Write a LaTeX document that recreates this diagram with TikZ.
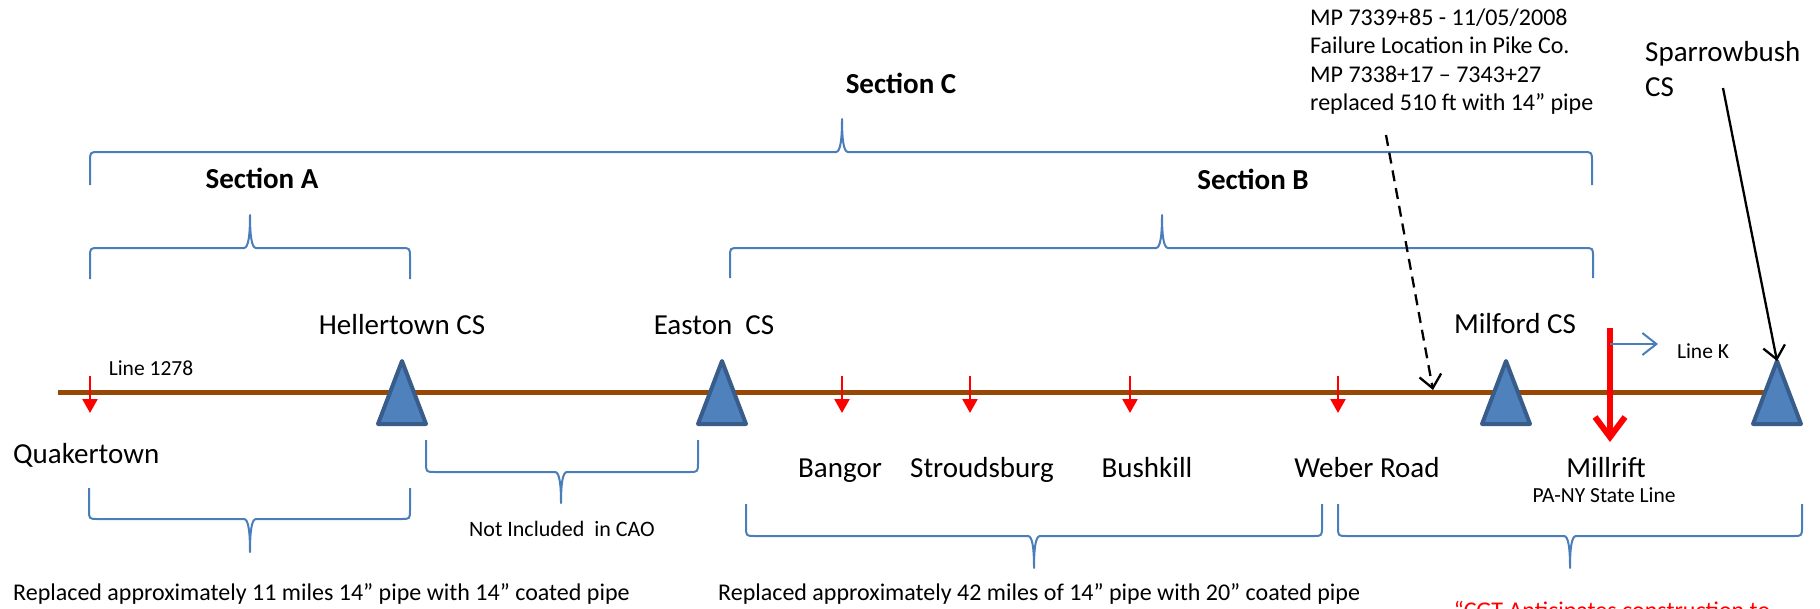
\documentclass[tikz,border=0pt]{standalone}
\usepackage{fontspec}
\setmainfont{Carlito}
\usetikzlibrary{arrows.meta}
\definecolor{pipebrown}{RGB}{152,72,6}
\definecolor{trifill}{HTML}{4F81BD}
\definecolor{tridraw}{HTML}{385D8A}
\definecolor{braceblue}{HTML}{4A7EBB}
\definecolor{pured}{RGB}{255,0,0}
\newcommand{\brc}[6]{% x1,x2,xc,yline,yend,ytip
  \draw[bracestyle] (#1,#5) -- (#1,{#4+0.3*(#5-#4)}) .. controls (#1,#4) .. (#1+9,#4)
    -- (#3-6,#4) .. controls (#3-1.5,#4) and (#3,{#4+0.4*(#6-#4)}) .. (#3,#6)
    .. controls (#3,{#4+0.4*(#6-#4)}) and (#3+1.5,#4) .. (#3+6,#4)
    -- (#2-9,#4) .. controls (#2,#4) .. (#2,{#4+0.3*(#5-#4)}) -- (#2,#5);}
\begin{document}
\begin{tikzpicture}[x=1pt,y=-1pt,
  bracestyle/.style={draw=braceblue,line width=2pt,line join=round},
  cstri/.style={fill=trifill,draw=tridraw,line width=4pt,line join=round},
  pipe/.style={draw=pipebrown,line width=5pt},
  redmark/.style={draw=pured,line width=2.5pt,-{Triangle[length=14pt,width=15pt]}},
  bigred/.style={draw=pured,line width=6pt,-{Straight Barb[length=20pt,width=30pt,line join=miter]}},
  bluearrow/.style={draw=braceblue,line width=2pt,-{Straight Barb[length=14pt,width=22pt]}},
  blackarrow/.style={draw=black,line width=2.3pt,-{Straight Barb[length=13pt,width=22pt]}},
  big/.style={font=\fontsize{29}{35}\selectfont,inner sep=0pt,anchor=base},
  bigbold/.style={font=\fontsize{29}{35}\selectfont\bfseries,inner sep=0pt,anchor=base},
  small/.style={font=\fontsize{21.5}{26}\selectfont,inner sep=0pt,anchor=base},
  note/.style={font=\fontsize{24}{29}\selectfont,inner sep=0pt,anchor=base west},
]
\useasboundingbox (0,0) rectangle (1820,608);
\clip (0,0) rectangle (1820,608);

% braces
\brc{90}{1592}{842}{152}{185}{119}
\brc{90}{410}{250}{248}{279}{215}
\brc{730}{1593}{1162}{248}{278}{215}
\brc{89}{410}{250}{519}{488}{552}
\brc{426}{698}{561}{472}{440}{503}
\brc{746}{1322}{1034}{536}{504}{568}
\brc{1338}{1802}{1570}{536}{504}{568}

% section labels
\node[bigbold] (secC) at (901,93) {Section C};
\node[bigbold] (secA) at (262,188) {Section A};
\node[bigbold] (secB) at (1253,189) {Section B};

% pipeline
\coordinate (pipeW) at (58,392);
\coordinate (pipeE) at (1777,392);
\draw[pipe] (pipeW) -- (pipeE);

% small red markers
\foreach \n/\x in {mq/90,mb/842,ms/970,mk/1130,mw/1338}{
  \coordinate (\n top) at (\x,376);
  \coordinate (\n tip) at (\x,413);
  \draw[redmark] (\n top) -- (\n tip);
}

% compressor stations
\foreach \n/\x in {hel/402,eas/722,mil/1506,spa/1777}{
  \coordinate (\n) at (\x,361);
  \draw[cstri] (\x,361) -- (\x-24,424) -- (\x+24,424) -- cycle;
}

% big red arrow and Line K arrow
\coordinate (mrtop) at (1610,328);
\coordinate (mrtip) at (1610,442);
\draw[bigred] (mrtop) -- (mrtip);
\coordinate (lkstart) at (1610,344);
\coordinate (lkend) at (1658,344);
\draw[bluearrow] (lkstart) -- (lkend);

% station labels
\node[big] (helL) at (402,334) {Hellertown CS};
\node[big] (easL) at (714,334) {Easton~~CS};
\node[big] (milL) at (1515,333) {Milford CS};
\node[small] (l1278) at (151,375) {Line 1278};
\node[small] (lineK) at (1703,358) {Line K};
\node[big,anchor=base west] (quak) at (13,463) {Quakertown};
\node[big] (bangor) at (840,477) {Bangor};
\node[big] (stroud) at (982,477) {Stroudsburg};
\node[big] (bush) at (1147,477) {Bushkill};
\node[big] (weber) at (1367,477) {Weber Road};
\node[big] (millrift) at (1606,477) {Millrift};
\node[small] (state) at (1604,502) {PA-NY State Line};
\node[small,font=\fontsize{22}{26}\selectfont] (notinc) at (562,536) {Not Included~~in CAO};

% top right notes
\node[note] (mp1) at (1310,25) {MP 7339+85 - 11/05/2008};
\node[note] (mp2) at (1310,53) {Failure Location in Pike Co.};
\node[note] (mp3) at (1310,82) {MP 7338+17 – 7343+27};
\node[note] (mp4) at (1310,110) {replaced 510 ft with 14” pipe};
\node[big,anchor=base west] (spar1) at (1645,61) {Sparrowbush};
\node[big,anchor=base west] (spar2) at (1645,96) {CS};

\coordinate (failstart) at (1386,135);
\coordinate (failtip) at (1433,390);
\draw[blackarrow,dash pattern=on 11pt off 7pt] (failstart) -- (failtip);
\coordinate (sparstart) at (1723,88);
\draw[blackarrow] (sparstart) -- (spa);

% bottom notes
\node[note] (repA) at (13,600) {Replaced approximately 11 miles 14” pipe with 14” coated pipe};
\node[note] (repB) at (718,600) {Replaced approximately 42 miles of 14” pipe with 20” coated pipe};
\node[note,anchor=base,text=pured] (cgt) at (1612,618) {“CGT Anticipates construction to};
\end{tikzpicture}
\end{document}
